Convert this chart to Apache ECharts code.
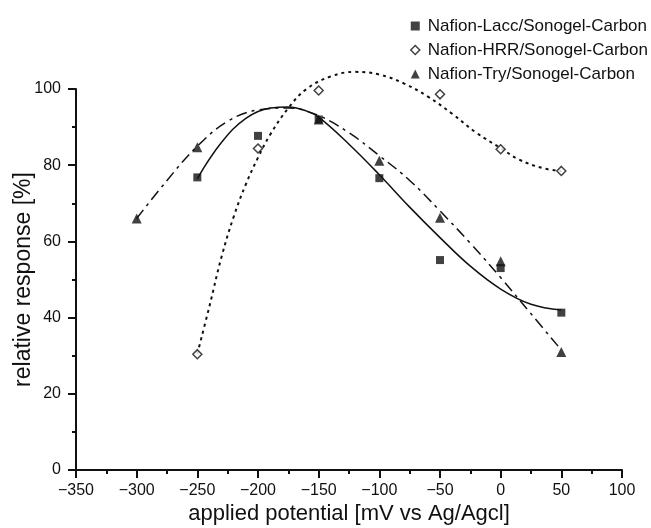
<!DOCTYPE html>
<html><head><meta charset="utf-8">
<script src="https://cdn.jsdelivr.net/npm/echarts@6/dist/echarts.min.js"></script>
<style>html,body{margin:0;padding:0;background:#fff}#c{width:651px;height:528px}</style>
</head><body><div id="c"></div>
<script>
const seriesNames = ['Nafion-Lacc/Sonogel-Carbon','Nafion-HRR/Sonogel-Carbon','Nafion-Try/Sonogel-Carbon'];
const potentials = [-250,-200,-150,-100,-50,0,50];
const laccValues = [76.8,87.7,92,76.6,55.1,53.0,41.3];
const hrrValues = [30.4,84.4,99.6,100.3,98.6,84.2,78.5];
const tryPotentials = [-300,-250,-200,-150,-100,-50,0,50];
const tryValues = [66,84.7,100.4,92.0,81.2,66.2,54.8,31.0];
// fitted curves
const laccCurve = [[-250,76.5],[-230,86],[-210,92.3],[-190,95],[-175,95.3],[-160,94.2],[-150,92.6],[-125,85.5],[-100,77.5],[-75,69],[-50,61],[-25,53.5],[0,47.5],[25,43.5],[50,42]];
const hrrCurve = [[-250,30.5],[-240,43],[-230,56],[-220,66.5],[-210,75],[-200,82],[-190,88],[-175,95],[-160,100],[-140,103.3],[-120,104.5],[-100,103.8],[-80,101.5],[-60,98],[-40,93.5],[-20,88.5],[0,84.5],[15,81.5],[35,79.2],[50,78.5]];
const tryCurve = [[-300,66],[-275,76],[-250,85],[-225,91.5],[-200,94.5],[-175,95],[-150,93],[-125,88.5],[-100,82.5],[-75,76],[-50,68],[-25,59.5],[0,50.5],[25,41],[50,31.5]];

const F = '"Liberation Sans", Arial, sans-serif';
const chart = echarts.init(document.getElementById('c'));
const minus = v => String(v).replace('-', '\u2212');
chart.setOption({
  animation: false,
  backgroundColor: '#fff',
  grid: {left: 76, right: 29, top: 89, bottom: 58, containLabel: false, outerBoundsMode: 'none'},
  legend: {
    orient: 'vertical', left: 405, top: 12, itemGap: 6, itemWidth: 9, itemHeight: 9,
    textStyle: {fontFamily: F, fontSize: 17, lineHeight: 18, color: '#111', padding: [0,0,0,3]},
    data: [
      {name: seriesNames[0], icon: 'rect', itemStyle: {color: '#111'}},
      {name: seriesNames[1], icon: 'diamond', itemStyle: {color: '#fff', borderColor: '#111', borderWidth: 1.5}},
      {name: seriesNames[2], icon: 'triangle', itemStyle: {color: '#111'}}
    ]
  },
  xAxis: {
    type: 'value', min: -350, max: 100, interval: 50,
    name: 'applied potential [mV vs Ag/Agcl]', nameLocation: 'middle', nameGap: 33, nameMoveOverlap: false,
    nameTextStyle: {fontFamily: F, fontSize: 22, color: '#111'},
    axisLine: {show: true, onZero: false, lineStyle: {color: '#111', width: 2}},
    axisTick: {show: true, inside: false, length: 8, lineStyle: {color: '#111', width: 2}},
    minorTick: {show: true, splitNumber: 2, length: 4, lineStyle: {color: '#111', width: 2}},
    splitLine: {show: false},
    axisLabel: {fontFamily: F, fontSize: 16, color: '#111', margin: 13, formatter: minus}
  },
  yAxis: {
    type: 'value', min: 0, max: 100, interval: 20,
    name: 'relative response [%]', nameLocation: 'middle', nameGap: 41, nameMoveOverlap: false,
    nameTextStyle: {fontFamily: F, fontSize: 23, color: '#111'},
    axisLine: {show: true, onZero: false, lineStyle: {color: '#111', width: 2}},
    axisTick: {show: true, inside: false, length: 8, lineStyle: {color: '#111', width: 2}},
    minorTick: {show: true, splitNumber: 2, length: 4, lineStyle: {color: '#111', width: 2}},
    splitLine: {show: false},
    axisLabel: {fontFamily: F, fontSize: 16, color: '#111', margin: 15}
  },
  series: [
    {name: 'laccFit', type: 'line', data: laccCurve, smooth: 0.4, showSymbol: false, symbol: 'none', clip: false,
     lineStyle: {color: '#111', width: 1.5, type: 'solid'}, z: 2},
    {name: 'hrrFit', type: 'line', data: hrrCurve, smooth: 0.4, showSymbol: false, symbol: 'none', clip: false,
     lineStyle: {color: '#111', width: 2, type: [3, 4]}, z: 2},
    {name: 'tryFit', type: 'line', data: tryCurve, smooth: 0.4, showSymbol: false, symbol: 'none', clip: false,
     lineStyle: {color: '#111', width: 1.5, type: [11, 5, 3, 5]}, z: 2},
    {name: seriesNames[0], type: 'scatter', data: potentials.map((x,i)=>[x,laccValues[i]]), symbol: 'rect', symbolSize: 8,
     itemStyle: {color: '#111'}, z: 3},
    {name: seriesNames[1], type: 'scatter', data: potentials.map((x,i)=>[x,hrrValues[i]]), symbol: 'diamond', symbolSize: 9,
     itemStyle: {color: '#fff', borderColor: '#111', borderWidth: 1.5}, z: 4},
    {name: seriesNames[2], type: 'scatter', data: tryPotentials.map((x,i)=>[x,tryValues[i]]), symbol: 'triangle', symbolSize: 10,
     itemStyle: {color: '#111'}, z: 3}
  ]
});
</script></body></html>
